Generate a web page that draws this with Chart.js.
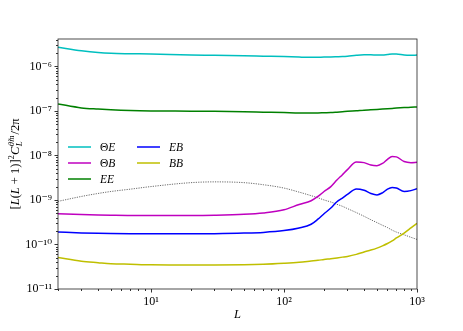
<!DOCTYPE html>
<html lang="en">
<head>
<meta charset="UTF-8" />
<title>Cross spectra</title>
<style>
  html, body { margin: 0; padding: 0; background: #fff; }
</style>
</head>
<body>
<canvas id="myChart" width="463" height="331"></canvas>
<script src="https://cdn.jsdelivr.net/npm/chart.js"></script>
<script>
// multipoles shared by all curves
const ells = [2, 3, 4, 5, 7, 10, 20, 30, 50, 70, 100, 130, 160, 180, 200, 225, 250, 275, 300, 350, 400, 450, 500, 550, 600, 650, 700, 800, 900, 1000];

const thetaE = [2.7e-6, 2.25e-6, 2.05e-6, 1.97e-6, 1.93e-6, 1.9e-6, 1.8e-6, 1.78e-6, 1.74e-6, 1.7e-6, 1.66e-6, 1.62e-6, 1.6e-6, 1.61e-6, 1.62e-6, 1.63e-6, 1.65e-6, 1.67e-6, 1.7e-6, 1.78e-6, 1.82e-6, 1.82e-6, 1.8e-6, 1.8e-6, 1.85e-6, 1.9e-6, 1.9e-6, 1.8e-6, 1.78e-6, 1.8e-6];
const thetaB = [4.9e-10, 4.7e-10, 4.6e-10, 4.55e-10, 4.5e-10, 4.5e-10, 4.5e-10, 4.55e-10, 4.75e-10, 5.1e-10, 6.0e-10, 7.9e-10, 9.6e-10, 1.2e-9, 1.55e-9, 2.0e-9, 2.8e-9, 3.7e-9, 4.8e-9, 7.1e-9, 6.9e-9, 6.1e-9, 5.9e-9, 6.6e-9, 8.2e-9, 9.5e-9, 9.3e-9, 7.3e-9, 6.9e-9, 7.0e-9];
const eeVals = [1.44e-7, 1.17e-7, 1.1e-7, 1.06e-7, 1.02e-7, 1.0e-7, 9.9e-8, 9.8e-8, 9.6e-8, 9.4e-8, 9.2e-8, 9.0e-8, 9.0e-8, 9.0e-8, 9.1e-8, 9.2e-8, 9.4e-8, 9.6e-8, 9.8e-8, 1.01e-7, 1.04e-7, 1.06e-7, 1.08e-7, 1.1e-7, 1.12e-7, 1.14e-7, 1.16e-7, 1.19e-7, 1.21e-7, 1.23e-7];
const ebVals = [1.9e-10, 1.82e-10, 1.78e-10, 1.76e-10, 1.75e-10, 1.75e-10, 1.74e-10, 1.75e-10, 1.8e-10, 1.87e-10, 2.05e-10, 2.35e-10, 2.85e-10, 3.7e-10, 4.9e-10, 6.6e-10, 9.1e-10, 1.1e-9, 1.33e-9, 1.77e-9, 1.65e-9, 1.4e-9, 1.3e-9, 1.45e-9, 1.75e-9, 1.9e-9, 1.85e-9, 1.55e-9, 1.62e-9, 1.8e-9];
const bbVals = [5.1e-11, 4.2e-11, 3.9e-11, 3.7e-11, 3.6e-11, 3.5e-11, 3.45e-11, 3.45e-11, 3.5e-11, 3.6e-11, 3.8e-11, 4.0e-11, 4.25e-11, 4.4e-11, 4.6e-11, 4.8e-11, 5.0e-11, 5.2e-11, 5.4e-11, 6.0e-11, 6.8e-11, 7.5e-11, 8.3e-11, 9.3e-11, 1.05e-10, 1.2e-10, 1.4e-10, 1.8e-10, 2.35e-10, 3.0e-10];
// unlabelled dotted reference curve
const refVals = [9.3e-10, 1.2e-9, 1.4e-9, 1.55e-9, 1.75e-9, 2.0e-9, 2.45e-9, 2.55e-9, 2.45e-9, 2.2e-9, 1.85e-9, 1.5e-9, 1.25e-9, 1.12e-9, 1.0e-9, 9.0e-10, 8.0e-10, 7.2e-10, 6.4e-10, 5.2e-10, 4.3e-10, 3.6e-10, 3.1e-10, 2.7e-10, 2.4e-10, 2.1e-10, 1.9e-10, 1.65e-10, 1.45e-10, 1.3e-10];

const xTickLabels = [10, 100, 1000];
const yTickLabels = [1e-11, 1e-10, 1e-9, 1e-8, 1e-7, 1e-6];

const SERIF = '"Liberation Serif", "DejaVu Serif", serif';
const SUP = { '-': '\u207B', '0': '\u2070', '1': '\u00B9', '2': '\u00B2', '3': '\u00B3', '4': '\u2074', '5': '\u2075', '6': '\u2076', '7': '\u2077', '8': '\u2078', '9': '\u2079' };

const pts = (vals) => ells.map((l, i) => ({ x: l, y: vals[i] }));
const isLabelled = (v, list) => list.some((t) => Math.abs(v / t - 1) < 1e-6);
const expLabel = (v) => '10' + String(Math.round(Math.log10(v))).split('').map((c) => SUP[c]).join('');

// integer mantissa ticks (1..9 x 10^n) inside the axis range
function logTicks(scale) {
  const out = [];
  for (let e = Math.floor(Math.log10(scale.min)); e <= Math.ceil(Math.log10(scale.max)); e++) {
    for (let m = 1; m <= 9; m++) {
      const v = m * Math.pow(10, e);
      if (v >= scale.min * 0.9999 && v <= scale.max * 1.0001) out.push({ value: v });
    }
  }
  scale.ticks = out;
}

// draws mixed upright/italic text, returns width
function mathText(ctx, parts, x, y, size, measureOnly) {
  let w = 0;
  parts.forEach((p) => {
    const fs = p.small ? size * 0.7 : size;
    ctx.font = (p.it ? 'italic ' : '') + fs + 'px ' + SERIF;
    if (!measureOnly) ctx.fillText(p.t, x + w, y + (p.dy || 0));
    if (!p.stack) w += ctx.measureText(p.t).width + (p.gap || 0);
  });
  return w;
}

function labelParts(label) {
  return label.split('').map((c) => ({ t: c, it: /[A-Za-z]/.test(c) }));
}

const decorations = {
  id: 'decorations',
  afterDraw(chart) {
    const { ctx, chartArea: a, scales } = chart;
    ctx.save();
    ctx.strokeStyle = '#000';
    ctx.lineWidth = 0.8;
    // outward tick marks
    scales.x.ticks.forEach((t) => {
      const px = Math.round(scales.x.getPixelForValue(t.value)) + 0.5;
      const len = isLabelled(t.value, xTickLabels) ? 3.5 : 2;
      ctx.beginPath(); ctx.moveTo(px, a.bottom); ctx.lineTo(px, a.bottom + len); ctx.stroke();
    });
    scales.y.ticks.forEach((t) => {
      const py = Math.round(scales.y.getPixelForValue(t.value)) + 0.5;
      const len = isLabelled(t.value, yTickLabels) ? 3.5 : 2;
      ctx.beginPath(); ctx.moveTo(a.left, py); ctx.lineTo(a.left - len, py); ctx.stroke();
    });
    // frame
    ctx.strokeStyle = '#222';
    ctx.strokeRect(a.left, a.top, a.right - a.left, a.bottom - a.top);

    // legend, two columns inside the axes
    ctx.fillStyle = '#000';
    ctx.textBaseline = 'middle';
    const cols = [[0, 1, 2], [3, 4]];
    cols.forEach((col, ci) => {
      col.forEach((di, ri) => {
        const ds = chart.data.datasets[di];
        const x0 = a.left + 10 + ci * 69;
        const y0 = a.top + 108 + ri * 16;
        ctx.strokeStyle = ds.borderColor;
        ctx.lineWidth = 1.5;
        ctx.beginPath(); ctx.moveTo(x0, y0); ctx.lineTo(x0 + 23, y0); ctx.stroke();
        mathText(ctx, labelParts(ds.label), x0 + 32, y0 + 1, 11.5);
      });
    });

    // x title
    ctx.textBaseline = 'alphabetic';
    ctx.font = 'italic 12.5px ' + SERIF;
    ctx.textAlign = 'center';
    ctx.fillText('L', (a.left + a.right) / 2, 318);
    ctx.textAlign = 'left';

    // y title, rotated
    const parts = [
      { t: '[' }, { t: 'L', it: true }, { t: '(' }, { t: 'L', it: true }, { t: ' + 1)]' },
      { t: '2', small: true, dy: -5 }, { t: 'C', it: true, gap: 0.5 },
      { t: 'L', it: true, small: true, dy: 3, stack: true },
      { t: '\u03B8\u0303m', it: true, small: true, dy: -5, gap: 1 },
      { t: '/2\u03C0', it: false }
    ];
    const w = mathText(ctx, parts, 0, 0, 12.5, true);
    ctx.translate(19, (a.top + a.bottom) / 2 + w / 2);
    ctx.rotate(-Math.PI / 2);
    mathText(ctx, parts, 0, 0, 12.5);
    ctx.restore();
  }
};

const line = (label, vals, color, extra) => Object.assign({
  label: label,
  data: pts(vals),
  borderColor: color,
  backgroundColor: color,
  borderWidth: 1.5,
  pointRadius: 0,
  fill: false,
  cubicInterpolationMode: 'monotone'
}, extra || {});

const data = {
  datasets: [
    line('\u0398E', thetaE, '#00bfbf'),
    line('\u0398B', thetaB, '#bf00bf'),
    line('EE', eeVals, '#008000'),
    line('EB', ebVals, '#0000ff'),
    line('BB', bbVals, '#bfbf00'),
    line('', refVals, '#444444', { borderWidth: 0.8, borderDash: [1.2, 1.2] })
  ]
};

const config = {
  type: 'line',
  data: data,
  options: {
    responsive: false,
    animation: false,
    layout: { padding: { left: 0, top: 39, right: 46, bottom: 0 } },
    plugins: { legend: { display: false }, tooltip: { enabled: false } },
    scales: {
      x: {
        type: 'logarithmic',
        min: 2,
        max: 1000,
        grid: { display: false, drawTicks: false },
        border: { display: false },
        afterBuildTicks: logTicks,
        afterFit: (s) => { s.height = 42; },
        ticks: {
          autoSkip: false,
          maxRotation: 0,
          padding: 6,
          color: '#000',
          font: { family: SERIF, size: 12 },
          callback: (v) => (isLabelled(v, xTickLabels) ? expLabel(v) : '')
        }
      },
      y: {
        type: 'logarithmic',
        min: 1e-11,
        max: 4.13e-6,
        grid: { display: false, drawTicks: false },
        border: { display: false },
        afterBuildTicks: logTicks,
        afterFit: (s) => { s.width = 58; },
        ticks: {
          autoSkip: false,
          padding: 6,
          color: '#000',
          font: { family: SERIF, size: 12 },
          callback: (v) => (isLabelled(v, yTickLabels) ? expLabel(v) : '')
        }
      }
    }
  },
  plugins: [decorations]
};

const myChart = new Chart(document.getElementById('myChart'), config);
</script>
</body>
</html>
